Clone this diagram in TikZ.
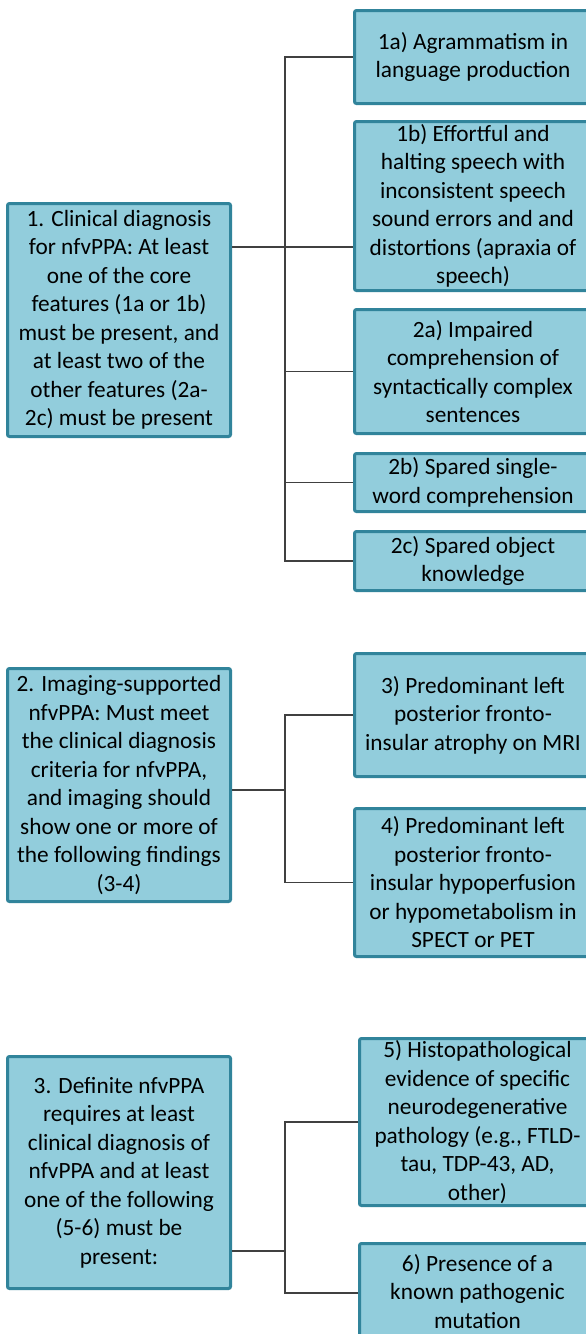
\documentclass[tikz,border=0pt]{standalone}
\usepackage{fontspec}
\setmainfont{Carlito}
\definecolor{boxfill}{HTML}{92CDDC}
\definecolor{boxline}{HTML}{31849B}
\definecolor{linkgray}{HTML}{404040}
\tikzset{
  crit/.style={draw=boxline, fill=boxfill, line width=3pt, rounded corners=2pt,
    align=center, inner sep=2pt, text=black, anchor=north west,
    font=\fontsize{23.3}{28.5}\selectfont},
  link/.style={draw=linkgray, line width=1.1pt},
}
\begin{document}
\begin{tikzpicture}[x=1pt, y=-1pt]
\clip (0,0) rectangle (586,1334);
\fill[white] (0,0) rectangle (586,1334);

% ---------- 1. clinical diagnosis ----------
\node[crit, minimum width=223pt, minimum height=233pt] (c1) at (6,202)
  {1. Clinical diagnosis\\for nfvPPA: At least\\one of the core\\features (1a or 1b)\\must be present, and\\at least two of the\\other features (2a-\\2c) must be present};
\node[crit, minimum width=237pt, minimum height=93pt] (a1a) at (353,9)
  {1a) Agrammatism in\\language production};
\node[crit, minimum width=237pt, minimum height=169pt] (a1b) at (353,120)
  {1b) Effortful and\\halting speech with\\inconsistent speech\\sound errors and and\\distortions (apraxia of\\speech)};
\node[crit, minimum width=237pt, minimum height=124pt] (a2a) at (353,308)
  {2a) Impaired\\comprehension of\\syntactically complex\\sentences};
\node[crit, minimum width=237pt, minimum height=58pt] (a2b) at (353,452)
  {2b) Spared single-\\word comprehension};
\node[crit, minimum width=237pt, minimum height=59pt] (a2c) at (353,530)
  {2c) Spared object\\knowledge};

\coordinate (j1) at (285,247);
\draw[link] (c1.east |- j1) -- (a1b.west |- j1);
\draw[link] (a1a.west) -| (j1 |- a2c.west) -- (a2c.west);
\draw[link] (j1 |- a2a.west) -- (a2a.west);
\draw[link] (j1 |- a2b.west) -- (a2b.west);

% ---------- 2. imaging-supported ----------
\node[crit, minimum width=223pt, minimum height=233pt] (c2) at (6,667)
  {2. Imaging-supported\\nfvPPA: Must meet\\the clinical diagnosis\\criteria for nfvPPA,\\and imaging should\\show one or more of\\the following findings\\(3-4)};
\node[crit, minimum width=237pt, minimum height=123pt] (b3) at (353,652)
  {3) Predominant left\\posterior fronto-\\insular atrophy on MRI};
\node[crit, minimum width=237pt, minimum height=148pt] (b4) at (353,807)
  {4) Predominant left\\posterior fronto-\\insular hypoperfusion\\or hypometabolism in\\SPECT or PET};

\coordinate (j2) at (285,790);
\draw[link] (c2.east |- j2) -- (j2);
\draw[link] (b3.west) -| (j2 |- b4.west) -- (b4.west);

% ---------- 3. definite ----------
\node[crit, minimum width=223pt, minimum height=232pt] (c3) at (6,1055)
  {3. Definite nfvPPA\\requires at least\\clinical diagnosis of\\nfvPPA and at least\\one of the following\\(5-6) must be\\present:};
\node[crit, minimum width=236pt, minimum height=167pt] (d5) at (358,1037)
  {5) Histopathological\\evidence of specific\\neurodegenerative\\pathology (e.g., FTLD-\\tau, TDP-43, AD,\\other)};
\node[crit, minimum width=236pt, minimum height=96pt] (d6) at (358,1242)
  {6) Presence of a\\known pathogenic\\mutation};

\coordinate (j3) at (285,1251);
\coordinate (j3b) at (285,1293);
\draw[link] (c3.east |- j3) -- (j3);
\draw[link] (d5.west) -| (j3b) -- (d6.west |- j3b);
\end{tikzpicture}
\end{document}
